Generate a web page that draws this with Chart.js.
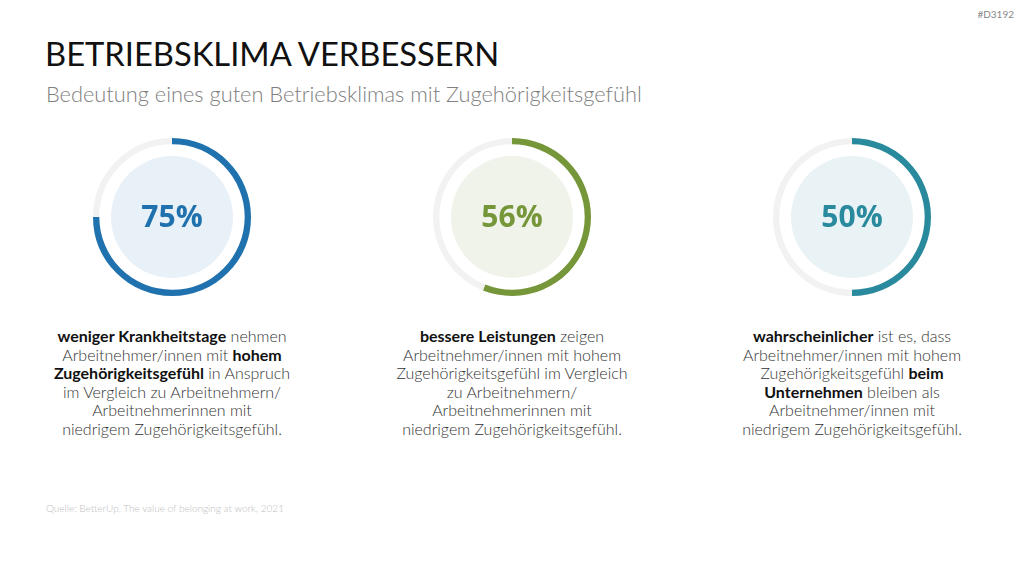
<!DOCTYPE html>
<html lang="de">
<head>
<meta charset="utf-8">
<script src="https://cdn.jsdelivr.net/npm/chart.js"></script>
<style>
  html, body { margin: 0; padding: 0; background: #fff; }
  body { width: 1024px; height: 576px; position: relative; overflow: hidden; font-family: Lato, "Open Sans", sans-serif; }
  .title { position: absolute; left: 45px; top: 34px; font-size: 32.7px; color: #111; }
  .subtitle { position: absolute; left: 46px; top: 80px; font-size: 21.8px; color: #808080; font-weight: 300; }
  .code { position: absolute; right: 10px; top: 8px; font-size: 10px; color: #888; }
  .source { position: absolute; left: 46px; top: 502px; font-size: 10px; color: #c0c0c0; font-weight: 300; }
  .ring { position: absolute; width: 158px; height: 158px; top: 138px; }
  .desc { position: absolute; width: 300px; top: 327px; text-align: center; font-size: 16px; line-height: 18.5px; color: #333; font-weight: 300; }
  .desc b { color: #111; font-weight: 700; }
</style>
</head>
<body>
<div class="code">#D3192</div>
<div class="title">BETRIEBSKLIMA VERBESSERN</div>
<div class="subtitle">Bedeutung eines guten Betriebsklimas mit Zugehörigkeitsgefühl</div>

<div class="ring" style="left:93px"><canvas id="c0"></canvas></div>
<div class="ring" style="left:433px"><canvas id="c1"></canvas></div>
<div class="ring" style="left:773px"><canvas id="c2"></canvas></div>

<div class="desc" style="left:22px"><b>weniger Krankheitstage</b> nehmen<br>Arbeitnehmer/innen mit <b>hohem</b><br><b>Zugehörigkeitsgefühl</b> in Anspruch<br>im Vergleich zu Arbeitnehmern/<br>Arbeitnehmerinnen mit<br>niedrigem Zugehörigkeitsgefühl.</div>
<div class="desc" style="left:362px"><b>bessere Leistungen</b> zeigen<br>Arbeitnehmer/innen mit hohem<br>Zugehörigkeitsgefühl im Vergleich<br>zu Arbeitnehmern/<br>Arbeitnehmerinnen mit<br>niedrigem Zugehörigkeitsgefühl.</div>
<div class="desc" style="left:702px"><b>wahrscheinlicher</b> ist es, dass<br>Arbeitnehmer/innen mit hohem<br>Zugehörigkeitsgefühl <b>beim</b><br><b>Unternehmen</b> bleiben als<br>Arbeitnehmer/innen mit<br>niedrigem Zugehörigkeitsgefühl.</div>

<div class="source">Quelle: BetterUp, The value of belonging at work, 2021</div>

<script>
// Werte der drei Kennzahlen
const values = [75, 56, 50]
const ringColors = ['#1f72ae', '#76963a', '#2a8a9d']
const fillColors = ['#e8f0f8', '#f0f3ea', '#e9f2f5']
const trackColor = '#f2f2f2'

// Innenkreis + Prozentzahl in der Mitte
const centerPlugin = {
  id: 'center',
  beforeDatasetsDraw(chart, args, opts) {
    const arc = chart.getDatasetMeta(0).data[0]
    const ctx = chart.ctx
    ctx.save()
    ctx.beginPath()
    ctx.arc(arc.x, arc.y, arc.outerRadius - 18, 0, Math.PI * 2)
    ctx.fillStyle = opts.fill
    ctx.fill()
    ctx.restore()
  },
  afterDatasetsDraw(chart, args, opts) {
    const arc = chart.getDatasetMeta(0).data[0]
    const ctx = chart.ctx
    ctx.save()
    ctx.font = 'bold 30px "Open Sans", sans-serif'
    ctx.fillStyle = opts.color
    ctx.textAlign = 'center'
    ctx.textBaseline = 'middle'
    ctx.fillText(chart.data.datasets[0].data[0] + '%', arc.x, arc.y + 1)
    ctx.restore()
  }
}

values.forEach((v, i) => {
  new Chart(document.getElementById('c' + i), {
    type: 'doughnut',
    data: {
      labels: ['Wert', 'Rest'],
      datasets: [{
        data: [v, 100 - v],
        backgroundColor: [ringColors[i], trackColor],
        borderWidth: 0
      }]
    },
    options: {
      responsive: true,
      maintainAspectRatio: false,
      animation: false,
      cutout: '92%',
      layout: { padding: 0 },
      events: [],
      plugins: {
        legend: { display: false },
        tooltip: { enabled: false },
        center: { fill: fillColors[i], color: ringColors[i] }
      }
    },
    plugins: [centerPlugin]
  })
})
</script>
</body>
</html>
